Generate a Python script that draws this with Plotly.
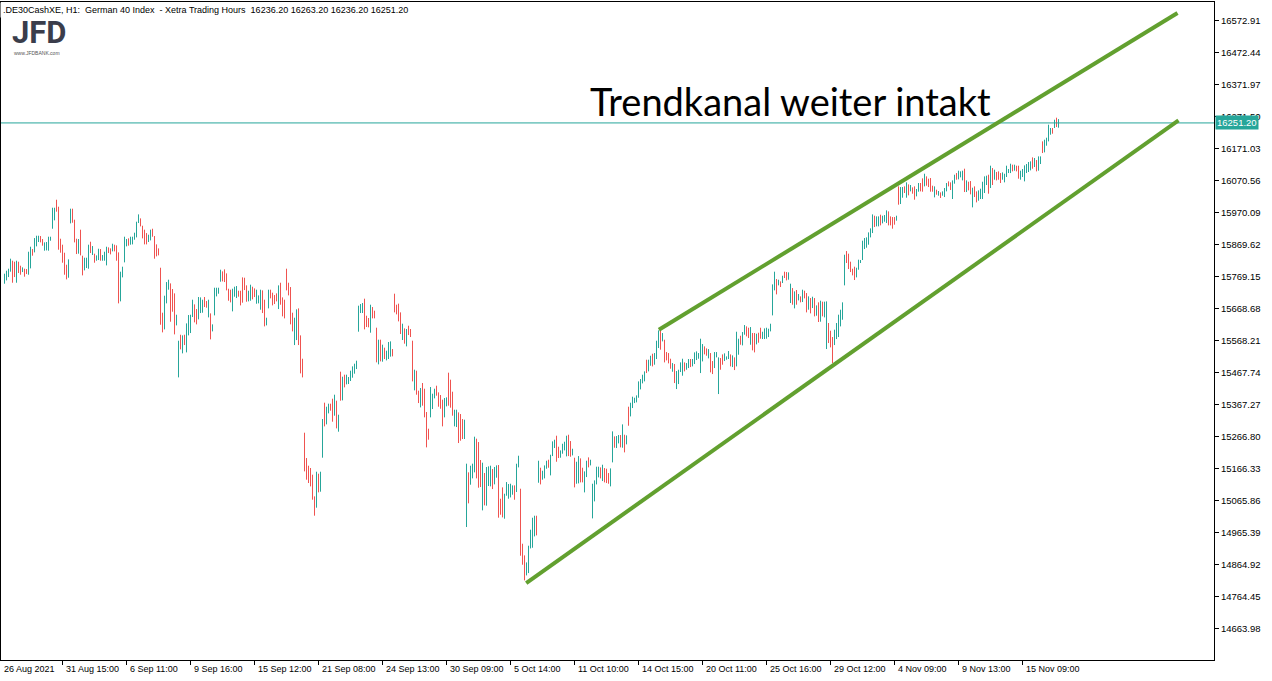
import plotly.graph_objects as go

# ---------------- data (DE30 H1 bars) ----------------
highs = [
    15778.0, 15787.4, 15793.7, 15825.1, 15818.8, 15815.6, 15818.8, 15815.6, 15803.1, 15797.9,
    15793.7, 15792.6, 15847.0, 15862.7, 15855.4, 15889.9, 15897.2, 15897.2, 15896.2, 15886.8,
    15876.3, 15877.4, 15894.1, 15894.1, 15985.1, 15985.1, 16010.2, 15988.2, 15887.8, 15869.0,
    15843.9, 15806.2, 15823.0, 15982.0, 15982.0, 15947.5, 15887.8, 15886.8, 15916.1, 15834.5,
    15828.2, 15828.2, 15869.0, 15878.4, 15864.8, 15840.8, 15835.5, 15856.4, 15855.4, 15836.6,
    15847.0, 15862.7, 15860.6, 15857.5, 15872.1, 15869.0, 15866.9, 15844.9, 15784.3, 15800.0,
    15894.1, 15886.8, 15888.9, 15894.1, 15894.1, 15906.7, 15941.2, 15964.2, 15951.6, 15928.6,
    15916.1, 15905.6, 15900.4, 15916.1, 15919.2, 15896.2, 15870.0, 15857.5, 15796.8, 15655.6,
    15708.9, 15751.8, 15759.2, 15747.6, 15729.9, 15716.3, 15649.3, 15567.7, 15586.5, 15584.5,
    15586.5, 15622.1, 15648.3, 15649.3, 15696.4, 15681.7, 15667.1, 15704.8, 15703.7, 15696.4,
    15704.8, 15692.2, 15696.4, 15653.5, 15619.0, 15734.0, 15734.0, 15734.0, 15790.5, 15785.3,
    15791.6, 15779.0, 15730.9, 15727.8, 15730.9, 15737.2, 15739.3, 15724.6, 15724.6, 15766.5,
    15765.4, 15741.4, 15724.6, 15743.5, 15737.2, 15732.0, 15727.8, 15710.0, 15727.8, 15725.7,
    15696.4, 15639.9, 15727.8, 15727.8, 15718.4, 15711.0, 15716.3, 15741.4, 15749.7, 15703.7,
    15696.4, 15793.7, 15749.7, 15736.1, 15655.6, 15639.9, 15666.1, 15669.2, 15584.5, 15511.2,
    15279.0, 15199.5, 15175.5, 15168.2, 15147.2, 15079.2, 15156.6, 15150.4, 15156.6, 15321.9,
    15373.2, 15360.6, 15370.1, 15370.1, 15385.7, 15398.3, 15379.5, 15335.5, 15470.5, 15454.8,
    15461.1, 15461.1, 15453.7, 15473.6, 15487.2, 15495.6, 15505.0, 15677.6, 15682.8, 15686.0,
    15699.6, 15646.2, 15638.9, 15680.7, 15673.4, 15661.9, 15608.6, 15570.9, 15570.9, 15555.2,
    15545.8, 15536.4, 15563.6, 15565.7, 15541.6, 15715.3, 15680.7, 15684.0, 15656.7, 15621.1,
    15606.5, 15604.4, 15614.8, 15604.4, 15567.8, 15476.8, 15473.6, 15410.9, 15419.2, 15434.9,
    15417.1, 15343.9, 15291.6, 15422.4, 15401.4, 15417.1, 15426.5, 15405.6, 15397.3, 15382.6,
    15387.8, 15389.9, 15467.4, 15445.4, 15407.7, 15351.2, 15351.2, 15342.8, 15337.6, 15321.9,
    15319.8, 15181.8, 15154.6, 15175.5, 15181.8, 15266.5, 15260.2, 15249.7, 15193.3, 15184.9,
    15152.5, 15171.3, 15173.4, 15175.5, 15165.0, 15171.3, 15176.5, 15177.6,
    15071.8, 15107.4, 15087.5, 15124.1, 15117.9, 15118.9, 15113.7, 15113.7, 15181.7, 15206.8,
    15103.2, 14930.6, 14894.0, 14872.0, 14924.3, 14974.6, 15012.2, 15018.5, 15018.5, 15191.1,
    15169.1, 15159.7, 15176.4, 15191.1, 15194.2, 15209.9, 15251.8, 15257.0, 15269.6, 15235.0,
    15223.5, 15244.4, 15250.7, 15269.6, 15272.7, 15252.8, 15228.7, 15200.5, 15187.9, 15205.7,
    15198.4, 15169.1, 15157.6, 15191.1, 15201.6, 15194.2, 15118.9, 15129.4, 15172.3, 15172.3,
    15170.2, 15178.5, 15168.1, 15166.0, 15152.4, 15167.0, 15283.2, 15267.5, 15268.5, 15271.7,
    15271.7, 15305.1, 15272.7, 15270.6, 15360.6, 15373.1, 15392.0, 15388.8, 15396.1, 15440.1,
    15447.4, 15461.0, 15471.5, 15508.1, 15508.1, 15520.6, 15526.9, 15529.0, 15567.7, 15600.1,
    15599.1, 15591.8, 15570.8, 15532.1, 15529.0, 15511.2, 15497.6, 15494.5, 15472.5, 15476.7,
    15499.7, 15511.2, 15499.7, 15497.6, 15510.2, 15510.2, 15510.2, 15531.1, 15534.2, 15529.0,
    15574.0, 15557.2, 15549.9, 15543.6, 15541.5, 15529.0, 15503.9, 15532.1, 15532.1, 15515.4,
    15513.3, 15524.8, 15528.0, 15518.5, 15535.3, 15524.8, 15521.7, 15515.4, 15595.9, 15574.0,
    15583.4, 15594.9, 15616.9, 15612.7, 15608.5, 15610.6, 15591.8, 15591.8, 15589.7, 15592.8,
    15608.5, 15595.9, 15606.4, 15608.5, 15605.4, 15621.0,
    15744.5, 15784.3, 15761.2, 15759.1,
    15754.0, 15771.7, 15784.3, 15783.2, 15782.2, 15746.7, 15733.0, 15722.6, 15726.8, 15714.2,
    15706.9, 15727.8, 15724.7, 15717.3, 15706.9, 15701.6, 15705.8, 15701.6, 15678.6, 15688.1,
    15693.3, 15690.2, 15690.2, 15691.2, 15623.2, 15599.1, 15579.3, 15602.3, 15623.2, 15649.4,
    15665.0, 15688.1, 15837.6, 15849.1, 15840.8, 15815.7, 15793.7, 15800.0, 15796.8, 15822.0,
    15820.9, 15881.6, 15890.0, 15892.0, 15907.7, 15920.3, 15964.2, 15960.0, 15957.9, 15957.9,
    15963.2, 15960.0, 15962.1, 15976.8, 15973.6, 15957.9, 15955.8, 15955.8, 15960.0, 16052.1,
    16050.0, 16050.0, 16052.1, 16064.7, 16058.4, 16056.3, 16049.0, 16052.1, 16043.7, 16062.6,
    16062.6, 16077.2, 16091.8, 16083.5, 16076.2, 16078.2, 16054.2, 16052.1, 16041.6, 16037.5,
    16033.3, 16036.4, 16046.9, 16062.6, 16067.8, 16064.7, 16070.9, 16088.7, 16093.9, 16101.3,
    16099.2, 16101.3, 16107.5, 16070.9, 16066.7, 16068.8, 16047.9, 16052.1, 16036.4, 16039.5,
    16044.8, 16066.7, 16083.5, 16085.6, 16088.7, 16117.0, 16109.6, 16104.4, 16097.1, 16099.2,
    16093.9, 16096.0, 16091.8, 16117.0, 16106.5, 16123.2, 16120.1, 16120.1, 16117.0, 16117.0,
    16101.3, 16106.5, 16118.0, 16122.2, 16128.5, 16130.6, 16143.1, 16141.0, 16134.7, 16146.2,
    16146.2, 16193.3, 16198.6, 16204.8, 16245.6, 16235.2, 16235.2, 16261.3, 16267.6, 16263.2,
]

lows = [
    15746.6, 15757.1, 15767.5, 15784.3, 15749.7, 15767.5, 15749.7, 15780.1, 15774.8, 15783.2,
    15768.6, 15776.9, 15774.8, 15794.7, 15834.5, 15844.9, 15863.8, 15877.4, 15876.3, 15865.9,
    15850.2, 15851.2, 15850.2, 15881.5, 15919.2, 15945.4, 15972.6, 15853.3, 15843.9, 15812.5,
    15774.8, 15760.2, 15765.4, 15935.9, 15938.0, 15876.3, 15839.7, 15840.8, 15835.5, 15772.8,
    15788.4, 15795.8, 15793.7, 15842.8, 15836.6, 15812.5, 15818.8, 15820.9, 15818.8, 15818.8,
    15818.8, 15804.1, 15842.8, 15838.7, 15848.1, 15848.1, 15818.8, 15684.9, 15691.2, 15766.5,
    15813.6, 15863.8, 15865.9, 15869.0, 15870.0, 15884.7, 15892.0, 15937.0, 15926.5, 15888.9,
    15870.0, 15870.0, 15877.4, 15882.6, 15894.1, 15825.1, 15832.4, 15835.5, 15617.9, 15593.9,
    15603.3, 15684.9, 15727.8, 15627.3, 15658.7, 15587.6, 15615.8, 15452.6, 15540.5, 15528.0,
    15554.1, 15531.1, 15584.5, 15591.8, 15642.0, 15625.3, 15619.0, 15634.7, 15654.5, 15655.6,
    15673.4, 15671.3, 15640.9, 15571.9, 15597.0, 15647.2, 15706.8, 15715.2, 15752.9, 15753.9,
    15751.8, 15725.7, 15693.2, 15688.0, 15659.8, 15705.8, 15701.6, 15705.8, 15678.6, 15687.0,
    15726.7, 15690.1, 15691.2, 15693.2, 15697.4, 15704.7, 15683.8, 15684.9, 15665.0, 15654.5,
    15612.7, 15615.8, 15669.2, 15700.6, 15678.6, 15682.8, 15691.2, 15667.1, 15680.7, 15644.1,
    15637.8, 15725.7, 15710.0, 15619.0, 15597.0, 15554.1, 15569.8, 15554.1, 15465.2, 15452.6,
    15157.7, 15131.5, 15121.1, 15110.6, 15068.8, 15018.6, 15043.7, 15091.8, 15093.9, 15200.6,
    15298.9, 15305.2, 15339.7, 15348.1, 15313.6, 15332.4, 15292.6, 15282.2, 15379.5, 15380.5,
    15421.3, 15430.7, 15431.8, 15441.2, 15451.6, 15464.2, 15478.8, 15596.0, 15654.6, 15654.6,
    15603.3, 15610.7, 15609.7, 15592.9, 15637.9, 15637.9, 15499.8, 15493.5, 15502.9, 15501.9,
    15510.2, 15506.0, 15510.2, 15517.6, 15518.6, 15656.7, 15650.4, 15628.4, 15588.7, 15569.9,
    15558.4, 15550.0, 15585.5, 15579.3, 15440.1, 15411.9, 15398.3, 15372.1, 15358.5, 15363.8,
    15327.2, 15233.0, 15257.1, 15327.2, 15353.3, 15386.8, 15395.2, 15360.6, 15354.3, 15298.9,
    15327.2, 15361.7, 15363.8, 15357.5, 15332.4, 15298.9, 15296.8, 15246.6, 15253.9, 15259.2,
    15259.2, 14983.0, 15057.3, 15115.8, 15135.7, 15154.6, 15135.7, 15106.4, 15108.5, 15035.3,
    15051.0, 15050.0, 15111.7, 15110.6, 15102.2, 15116.9, 15137.8, 15012.3,
    15021.6, 15013.3, 15009.1, 15081.3, 15071.8, 15076.0, 15084.4, 15068.7, 15092.8, 15170.2,
    14893.0, 14864.7, 14815.6, 14831.2, 14838.5, 14915.9, 14918.0, 14953.6, 14956.8, 15122.0,
    15116.8, 15131.5, 15135.6, 15166.0, 15169.1, 15145.1, 15205.7, 15230.9, 15187.9, 15199.5,
    15200.5, 15213.1, 15223.5, 15204.7, 15205.7, 15203.6, 15207.8, 15107.4, 15118.9, 15120.0,
    15123.1, 15123.1, 15091.7, 15139.8, 15170.2, 15176.4, 15010.1, 15063.5, 15116.8, 15138.8,
    15135.6, 15127.3, 15123.1, 15121.0, 15118.9, 15110.6, 15185.9, 15231.9, 15230.9, 15245.5,
    15233.0, 15231.9, 15217.3, 15242.4, 15300.9, 15330.2, 15356.4, 15372.1, 15374.2, 15388.8,
    15415.0, 15433.8, 15440.1, 15466.2, 15471.5, 15489.2, 15487.1, 15492.4, 15510.2, 15544.7,
    15539.5, 15565.6, 15499.7, 15506.0, 15496.6, 15479.8, 15470.4, 15434.8, 15416.0, 15431.7,
    15469.4, 15457.9, 15471.5, 15476.7, 15481.9, 15485.0, 15487.1, 15494.5, 15507.0, 15511.2,
    15466.2, 15502.8, 15524.8, 15520.6, 15512.3, 15468.3, 15463.1, 15481.9, 15515.4, 15400.3,
    15476.7, 15492.4, 15503.9, 15508.1, 15510.2, 15487.1, 15485.0, 15475.6, 15487.1, 15523.8,
    15555.1, 15553.0, 15586.5, 15581.3, 15576.1, 15555.1, 15537.4, 15531.1, 15556.2, 15561.4,
    15574.0, 15572.9, 15572.9, 15574.0, 15579.2, 15597.0,
    15647.2, 15725.7, 15713.1, 15741.4,
    15736.2, 15748.7, 15764.4, 15757.1, 15759.2, 15686.0, 15680.7, 15669.2, 15680.7, 15694.3,
    15688.1, 15689.1, 15700.6, 15656.7, 15665.0, 15653.5, 15670.2, 15644.1, 15646.2, 15626.4,
    15627.4, 15644.1, 15641.0, 15541.6, 15560.4, 15546.8, 15497.7, 15554.1, 15572.9, 15579.3,
    15612.7, 15633.6, 15741.4, 15811.5, 15792.6, 15783.2, 15772.8, 15758.2, 15766.5, 15790.6,
    15811.5, 15820.9, 15855.4, 15859.6, 15869.0, 15892.0, 15905.6, 15924.5, 15926.6, 15926.6,
    15929.7, 15936.0, 15941.2, 15937.0, 15929.7, 15929.7, 15919.3, 15931.8, 15944.4, 15994.6,
    15996.7, 16016.5, 16031.2, 16016.5, 16023.9, 16036.4, 16029.1, 16010.3, 16020.7, 16035.4,
    16036.4, 16035.4, 16052.1, 16054.2, 16050.0, 16035.4, 16035.4, 16017.6, 16025.9, 16022.8,
    16015.5, 16022.8, 16018.6, 16036.4, 16052.1, 16040.6, 16012.4, 16060.5, 16073.0, 16074.1,
    16080.4, 16070.9, 16034.3, 16034.3, 16039.5, 16027.0, 15986.2, 16018.6, 16001.9, 16007.1,
    16012.4, 16012.4, 16031.2, 16056.3, 16029.1, 16046.9, 16056.3, 16073.0, 16070.9, 16073.0,
    16062.6, 16073.0, 16064.7, 16081.4, 16093.9, 16093.9, 16099.2, 16101.3, 16099.2, 16076.2,
    16073.0, 16081.4, 16067.8, 16093.9, 16097.1, 16102.3, 16107.5, 16112.8, 16099.2, 16101.3,
    16122.2, 16156.7, 16158.8, 16179.7, 16193.3, 16214.2, 16217.4, 16235.2, 16238.3, 16236.2,
]

# bar direction: u = close above open (teal), d = close below open (red)
bar_dir = (
    "uuuudduddu" "dduuduuudd" "uuuuuudddd" "dduudddudd" "uuududuudu"
    "uudduddduu" "uuduuuuudd" "dduudddddd" "uuuddduudu" "duuuudduuu"
    "dduduuuuud" "dddduuuddd" "dduudduuud" "duuddddudd" "ddddduuddd"
    "dddddduduu" "duuddududu" "duuuuuuuuu" "dddudddudu" "duuudddddu"
    "duddduddud" "ddduuudddd" "uuddduuddd" "uuduuudddu" "duuuduud"
    "dduuuuuduu" "ddduuuuudu" "duuuduuudd" "uuuudduduu" "dduuduuuuu"
    "duddduuduu" "dududuuuuu" "uuuduuduuu" "dudddduduu" "uuduuduuuu"
    "uuddudduuu" "dduuududuu" "duudduddud" "duuuuu"
    "uudu"
    "dudduududu" "duddududud" "uduuddduuu" "uuuddddduu" "uuuuuuuduu"
    "duuuddddud" "uudududduu" "dduddddudu" "duuudduudu" "uududduddu"
    "uuuudududd" "duuuuududd" "uuuuuududu" "uduuuududu"
)

last_price = 16251.20
header = ".DE30CashXE, H1:  German 40 Index  - Xetra Trading Hours  16236.20 16263.20 16236.20 16251.20"

# trend lines (bar index, price) as drawn on the chart
upper_line_x = [327.2, 586.5]
upper_line_y = [15602.3, 16596.1]
lower_line_x = [260.85, 587.0]
lower_line_y = [14807.3, 16259.1]

y_ticks = [14663.98, 14764.45, 14864.92, 14965.39, 15065.86, 15166.33, 15266.80,
           15367.27, 15467.74, 15568.21, 15668.68, 15769.15, 15869.62, 15970.09,
           16070.56, 16171.03, 16271.50, 16371.97, 16472.44, 16572.91]

first_label = "26 Aug 2021"
x_tick_bars = [29, 61, 93, 125, 157, 189, 221, 253, 285, 317, 349, 381, 413, 445, 477, 509]
x_tick_labels = ["31 Aug 15:00", "6 Sep 11:00", "9 Sep 16:00", "15 Sep 12:00",
                 "21 Sep 08:00", "24 Sep 13:00", "30 Sep 09:00", "5 Oct 14:00",
                 "11 Oct 10:00", "14 Oct 15:00", "20 Oct 11:00", "25 Oct 16:00",
                 "29 Oct 12:00", "4 Nov 09:00", "9 Nov 13:00", "15 Nov 09:00"]

assert len(highs) == len(lows) == len(bar_dir), (len(highs), len(lows), len(bar_dir))

# ---------------- figure ----------------
UP = "#26a69a"
DN = "#ef5350"
LINE_GREEN = "#62a02f"
FONT = "Liberation Sans, Arial, sans-serif"

xu, yu, xd, yd = [], [], [], []
for i, (h, l, d) in enumerate(zip(highs, lows, bar_dir)):
    if d == "u":
        xu += [i, i, None]
        yu += [l, h, None]
    else:
        xd += [i, i, None]
        yd += [l, h, None]

X0, X1 = -1.75, 604.75
Y0, Y1 = 14565.7, 16630.7

fig = go.Figure()
fig.add_trace(go.Scatter(x=xu, y=yu, mode="lines", line=dict(color=UP, width=1),
                         hoverinfo="skip", showlegend=False))
fig.add_trace(go.Scatter(x=xd, y=yd, mode="lines", line=dict(color=DN, width=1),
                         hoverinfo="skip", showlegend=False))
fig.add_trace(go.Scatter(x=[X0, X1], y=[last_price, last_price], mode="lines",
                         line=dict(color=UP, width=1), hoverinfo="skip", showlegend=False))
fig.add_trace(go.Scatter(x=upper_line_x, y=upper_line_y, mode="lines",
                         line=dict(color=LINE_GREEN, width=4), hoverinfo="skip", showlegend=False))
fig.add_trace(go.Scatter(x=lower_line_x, y=lower_line_y, mode="lines",
                         line=dict(color=LINE_GREEN, width=4), hoverinfo="skip", showlegend=False))

annotations = []
# x axis labels (left aligned to tick, MT5 style)
annotations.append(dict(x=X0, xref="x", y=0, yref="paper", text=first_label, showarrow=False,
                        xanchor="left", yanchor="top", xshift=1, yshift=-2,
                        font=dict(family=FONT, size=9, color="black")))
for xb, lab in zip(x_tick_bars, x_tick_labels):
    annotations.append(dict(x=xb, xref="x", y=0, yref="paper", text=lab, showarrow=False,
                            xanchor="left", yanchor="top", xshift=1, yshift=-2,
                            font=dict(family=FONT, size=9, color="black")))
# last price box
annotations.append(dict(x=1, xref="paper", y=last_price, yref="y", text=f"{last_price:.2f}",
                        showarrow=False, xanchor="left", yanchor="middle", xshift=1,
                        bgcolor=UP, borderpad=1,
                        font=dict(family=FONT, size=9.5, color="white")))
# header
annotations.append(dict(x=0, xref="paper", y=1, yref="paper", text=header, showarrow=False,
                        xanchor="left", yanchor="top", xshift=-1, yshift=0,
                        bgcolor="white", borderpad=2,
                        font=dict(family=FONT, size=9, color="black")))
# logo
annotations.append(dict(x=0.0075, xref="paper", y=0.9530, yref="paper", text="<b>JFD</b>",
                        showarrow=False, xanchor="left", yanchor="middle",
                        font=dict(family="Roboto, sans-serif", size=31, color="#3a3d4b")))
annotations.append(dict(x=0.0091, xref="paper", y=0.9225, yref="paper", text="www.JFDBANK.com",
                        showarrow=False, xanchor="left", yanchor="middle",
                        font=dict(family=FONT, size=5, color="#555555")))
# title
annotations.append(dict(x=0.484, xref="paper", y=0.8495, yref="paper",
                        text="Trendkanal weiter intakt", showarrow=False,
                        xanchor="left", yanchor="middle",
                        font=dict(family="Lato, sans-serif", size=38, color="black")))

fig.update_layout(
    width=1272, height=681,
    margin=dict(l=1, r=58, t=2, b=21, pad=0),
    paper_bgcolor="white", plot_bgcolor="white",
    showlegend=False,
    hovermode=False,
    annotations=annotations,
    xaxis=dict(range=[X0, X1], showgrid=False, zeroline=False, showline=True,
               linecolor="black", linewidth=1, mirror=True,
               tickmode="array", tickvals=x_tick_bars, showticklabels=False,
               ticks="outside", ticklen=4, tickcolor="black", tickwidth=1),
    yaxis=dict(range=[Y0, Y1], side="right", showgrid=False, zeroline=False, showline=True,
               linecolor="black", linewidth=1, mirror=True,
               tickmode="array", tickvals=y_ticks, ticktext=[f"{v:.2f}" for v in y_ticks],
               ticks="outside", ticklen=4, tickcolor="black", tickwidth=1,
               tickfont=dict(family=FONT, size=9.5, color="black")),
)

fig.write_html(
    "out.html",
    config={"displayModeBar": False, "staticPlot": True},
    post_script="document.body.style.margin='0';document.body.style.padding='0';"
                "document.body.style.overflow='hidden';",
)
